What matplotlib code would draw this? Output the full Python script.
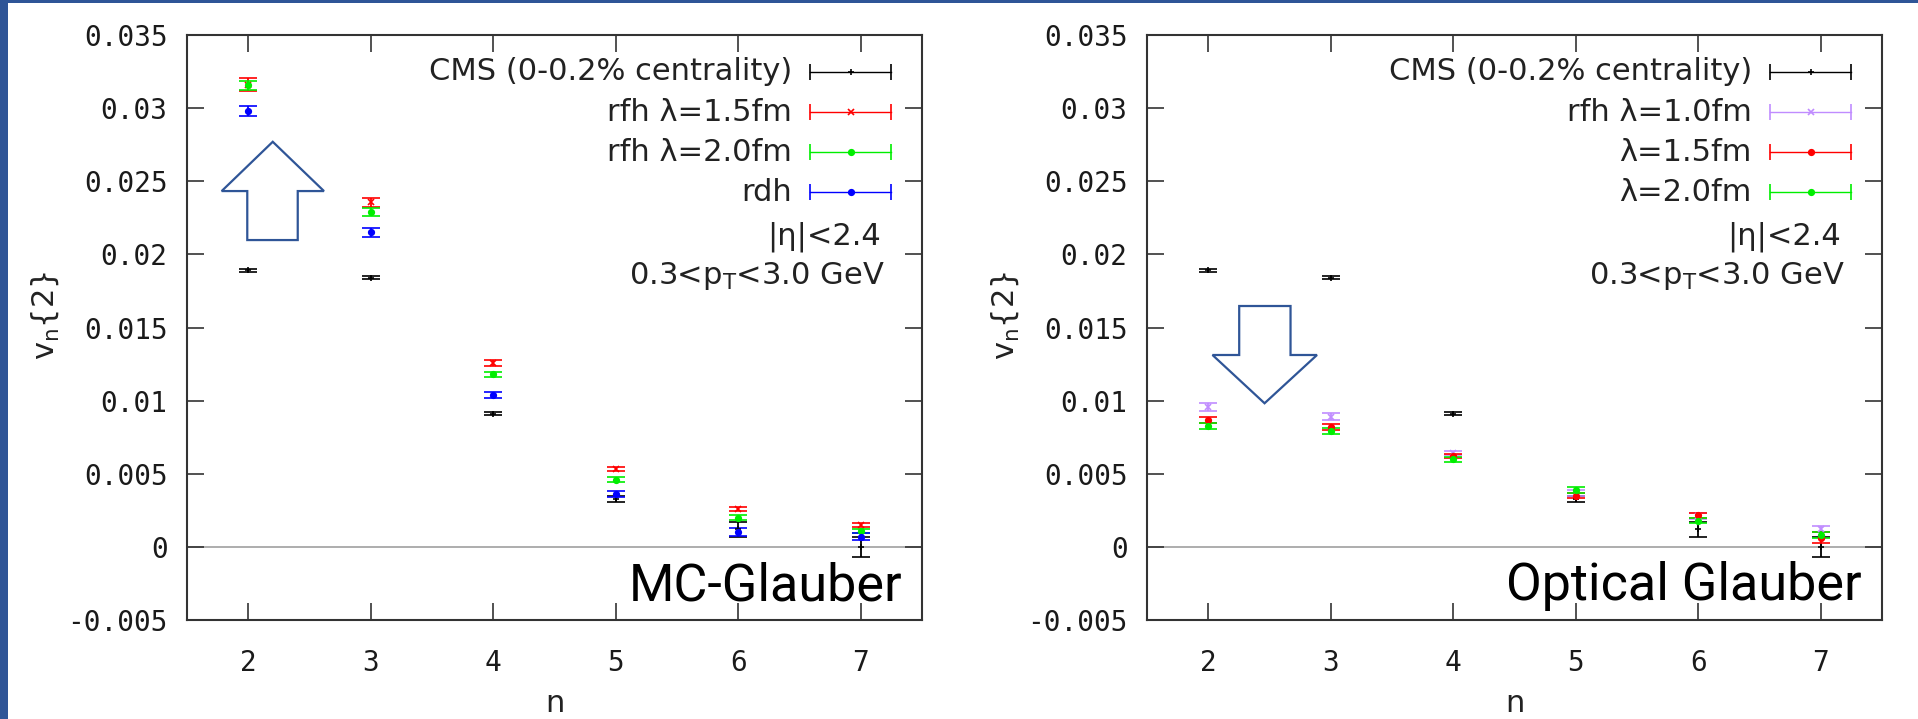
import numpy as np
import matplotlib.pyplot as plt
from matplotlib.patches import Polygon, Rectangle

plt.rcParams['font.family'] = ['DejaVu Sans']
plt.rcParams['mathtext.default'] = 'regular'

n = [2, 3, 4, 5, 6, 7]

# CMS v_n{2}, 0-0.2% centrality (same in both panels)
cms_v = [0.0189, 0.0184, 0.0091, 0.0033, 0.0012, 0.0000]
cms_err = [0.0001, 0.0001, 0.0001, 0.0002, 0.0005, 0.0007]

# MC-Glauber initial conditions
mc_rfh15_v = [0.0316, 0.02355, 0.0126, 0.00535, 0.0026, 0.00148]
mc_rfh15_err = [0.00045, 0.0003, 0.0002, 0.00014, 0.00015, 0.00014]
mc_rfh20_v = [0.03155, 0.0229, 0.0118, 0.0046, 0.0020, 0.00107]
mc_rfh20_err = [0.0003, 0.0003, 0.00017, 0.00017, 0.00017, 0.00014]
mc_rdh_v = [0.0298, 0.0215, 0.0104, 0.0036, 0.0010, 0.0007]
mc_rdh_err = [0.00035, 0.0003, 0.0002, 0.0002, 0.00027, 0.00023]

# Optical Glauber initial conditions
opt_l10_v = [0.00957, 0.0089, 0.0064, 0.0037, 0.0021, 0.00124]
opt_l10_err = [0.00025, 0.00025, 0.00015, 0.0002, 0.0002, 0.0002]
opt_l15_v = [0.00867, 0.0082, 0.0062, 0.0035, 0.00215, 0.00064]
opt_l15_err = [0.00023, 0.0002, 0.00015, 0.00017, 0.00015, 0.0004]
opt_l20_v = [0.00827, 0.0079, 0.0060, 0.0039, 0.0018, 0.0008]
opt_l20_err = [0.00023, 0.0002, 0.00017, 0.0002, 0.00015, 0.0002]

yticks = [-0.005, 0, 0.005, 0.01, 0.015, 0.02, 0.025, 0.03, 0.035]
ytick_labels = ['-0.005', '0', '0.005', '0.01', '0.015', '0.02', '0.025', '0.03', '0.035']

BLACK = '#000000'
RED = '#ff0000'
GREEN = '#00ee00'
BLUE = '#0000ff'
PURPLE = '#c08cff'
ARROW = '#2f5597'


def draw_set(ax, v, err, color, marker):
    ax.errorbar(n, v, yerr=err, fmt=marker, color=color, ms=4, mew=1.2,
                elinewidth=1.3, capsize=6.5, capthick=2.2, zorder=3)


def legend_row(ax, y, label, color, marker):
    # gnuplot style key: label, then horizontal bar with end caps
    x0, x1 = 0.848, 0.958
    ax.text(0.823, y, label, transform=ax.transAxes, ha='right', va='center',
            fontsize=22, color='#222222')
    ax.plot([x0, x1], [y, y], color=color, lw=1.0, transform=ax.transAxes, clip_on=False)
    ax.plot([x0, x1], [y, y], ls='none', marker='|', ms=11, mew=1.2, color=color,
            transform=ax.transAxes, clip_on=False)
    ax.plot([(x0 + x1) / 2], [y], ls='none', marker=marker, ms=4, mew=1.2, color=color,
            transform=ax.transAxes, clip_on=False)


def style_axes(ax):
    ax.set_xlim(1.5, 7.5)
    ax.set_ylim(-0.005, 0.035)
    ax.set_xticks(n)
    ax.set_yticks(yticks)
    ax.set_yticklabels(ytick_labels)
    ax.axhline(0, color='#a0a0a0', lw=1.2, zorder=1)
    for s in ax.spines.values():
        s.set_linewidth(1.5)
        s.set_color('#333333')
    ax.tick_params(direction='in', length=12, width=1.2, top=True, right=True,
                   colors='#333333', labelcolor='#1a1a1a')
    ax.tick_params(axis='y', pad=14)
    ax.tick_params(axis='x', pad=21)
    for lab in ax.get_xticklabels() + ax.get_yticklabels():
        lab.set_family('DejaVu Sans Mono')
        lab.set_fontsize(20)
    ax.set_xlabel('n', fontsize=22, color='#222222', va='baseline')
    ax.xaxis.set_label_coords(0.5, -0.158)
    ax.set_ylabel('v$_{n}${2}', fontsize=22, color='#222222')
    ax.yaxis.set_label_coords(-0.172, 0.52)
    ax.text(0.944, 0.655, '|η|<2.4', transform=ax.transAxes, ha='right', va='center',
            fontsize=22, color='#222222')
    ax.text(0.950, 0.588, '0.3<p$_{T}$<3.0 GeV', transform=ax.transAxes, ha='right',
            va='center', fontsize=22, color='#222222')


fig = plt.figure(figsize=(19.18, 7.19), dpi=100)
fig.patch.set_facecolor('white')

ax1 = fig.add_axes([0.0975, 0.1377, 0.3832, 0.8136])
ax2 = fig.add_axes([0.5980, 0.1377, 0.3832, 0.8136])

# left: MC-Glauber
draw_set(ax1, cms_v, cms_err, BLACK, '+')
draw_set(ax1, mc_rfh15_v, mc_rfh15_err, RED, 'x')
draw_set(ax1, mc_rfh20_v, mc_rfh20_err, GREEN, 'o')
draw_set(ax1, mc_rdh_v, mc_rdh_err, BLUE, 'o')
style_axes(ax1)
legend_row(ax1, 0.937, 'CMS (0-0.2% centrality)', BLACK, '+')
legend_row(ax1, 0.868, 'rfh λ=1.5fm', RED, 'x')
legend_row(ax1, 0.7995, 'rfh λ=2.0fm', GREEN, 'o')
legend_row(ax1, 0.731, 'rdh', BLUE, 'o')
ax1.text(0.973, 0.034, 'MC-Glauber', transform=ax1.transAxes, ha='right', va='baseline',
         fontsize=37.5, family='Roboto', color='black')
ax1.add_patch(Polygon([(1.992, 0.02098), (2.404, 0.02098), (2.404, 0.02433), (2.618, 0.02433),
                       (2.2, 0.0277), (1.783, 0.02433), (1.992, 0.02433)], closed=True,
                      facecolor='white', edgecolor=ARROW, lw=1.6, zorder=2))

# right: Optical Glauber
draw_set(ax2, cms_v, cms_err, BLACK, '+')
draw_set(ax2, opt_l10_v, opt_l10_err, PURPLE, 'x')
draw_set(ax2, opt_l15_v, opt_l15_err, RED, 'o')
draw_set(ax2, opt_l20_v, opt_l20_err, GREEN, 'o')
style_axes(ax2)
legend_row(ax2, 0.937, 'CMS (0-0.2% centrality)', BLACK, '+')
legend_row(ax2, 0.868, 'rfh λ=1.0fm', PURPLE, 'x')
legend_row(ax2, 0.7995, 'λ=1.5fm', RED, 'o')
legend_row(ax2, 0.731, 'λ=2.0fm', GREEN, 'o')
ax2.text(0.973, 0.034, 'Optical Glauber', transform=ax2.transAxes, ha='right', va='baseline',
         fontsize=37.5, family='Roboto', color='black')
ax2.add_patch(Polygon([(2.253, 0.01647), (2.672, 0.01647), (2.672, 0.01312), (2.888, 0.01312),
                       (2.46, 0.00982), (2.035, 0.01312), (2.253, 0.01312)], closed=True,
                      facecolor='white', edgecolor=ARROW, lw=1.6, zorder=2))

# slide border strips
fig.add_artist(Rectangle((0, 0), 8 / 1918, 1, transform=fig.transFigure,
                         facecolor=ARROW, edgecolor='none'))
fig.add_artist(Rectangle((0, 1 - 3 / 719), 1, 3 / 719, transform=fig.transFigure,
                         facecolor=ARROW, edgecolor='none'))

fig.savefig('out.png', dpi=100)
